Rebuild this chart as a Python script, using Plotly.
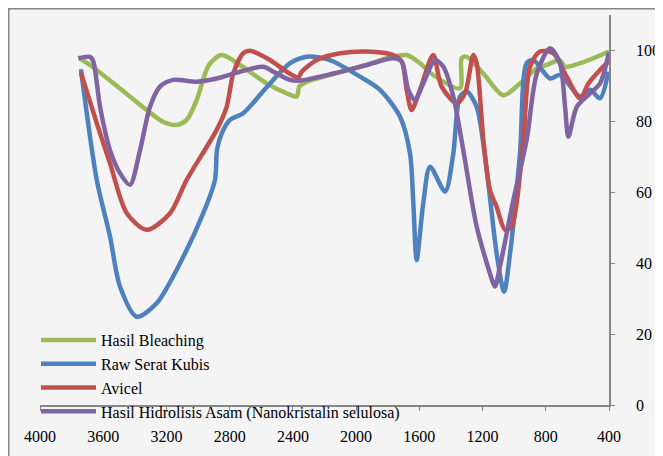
import plotly.graph_objects as go

# ---- data (wavenumber cm^-1, transmittance %) ----
green_x = [3750, 3684, 3500, 3325, 3222, 3135, 3072, 3009, 2930, 2850, 2735, 2566, 2439, 2376, 2360, 2320, 2146, 1933, 1807, 1680, 1596, 1513, 1343, 1332, 1300, 1195, 1069, 963, 857, 795, 710, 679, 583, 400]
green_y = [97.8, 95.9, 89.5, 83.2, 79.9, 79.0, 80.4, 86.0, 96.0, 98.7, 95.9, 90.7, 87.9, 87.0, 89.8, 91.0, 93.3, 95.9, 97.8, 98.7, 96.4, 93.1, 89.3, 97.8, 98.2, 93.5, 87.4, 90.7, 95.0, 95.9, 97.3, 95.4, 96.4, 99.7]

blue_x = [3741, 3641, 3557, 3494, 3388, 3262, 3114, 2967, 2893, 2880, 2850, 2798, 2714, 2545, 2418, 2313, 2230, 2144, 1975, 1849, 1722, 1659, 1638, 1617, 1575, 1532, 1437, 1385, 1343, 1300, 1237, 1174, 1111, 1064, 1026, 963, 921, 879, 773, 710, 583, 520, 457, 404]
blue_y = [94.7, 63.5, 47.5, 33.4, 24.9, 28.7, 40.0, 54.1, 63.5, 72.0, 76.6, 80.4, 82.3, 90.7, 96.4, 98.2, 98.0, 96.9, 92.6, 88.9, 81.3, 71.0, 56.9, 40.9, 56.9, 67.2, 60.2, 71.0, 87.0, 88.4, 84.1, 66.3, 42.8, 32.0, 42.8, 71.0, 96.4, 97.3, 92.1, 93.1, 87.0, 88.9, 86.5, 94.0]

red_x = [3741, 3641, 3557, 3451, 3325, 3177, 3072, 2882, 2819, 2777, 2714, 2671, 2545, 2439, 2366, 2344, 2249, 2102, 1933, 1765, 1712, 1680, 1649, 1596, 1512, 1459, 1364, 1311, 1258, 1237, 1195, 1153, 1111, 1058, 1016, 942, 900, 837, 752, 668, 583, 530, 457, 400]
red_y = [93.7, 79.5, 68.2, 54.1, 49.4, 54.1, 63.5, 77.6, 84.1, 93.5, 99.2, 99.9, 97.3, 94.0, 92.4, 94.0, 97.3, 99.2, 99.7, 98.7, 96.9, 88.9, 83.2, 88.9, 98.7, 89.8, 85.1, 87.9, 98.7, 96.4, 74.8, 60.6, 55.9, 49.4, 50.3, 74.8, 95.4, 99.7, 99.2, 92.6, 86.5, 90.7, 94.5, 97.0]

purple_x = [3758, 3684, 3663, 3620, 3557, 3494, 3431, 3367, 3304, 3241, 3157, 3009, 2882, 2735, 2587, 2524, 2418, 2355, 2144, 1933, 1765, 1712, 1670, 1628, 1575, 1501, 1448, 1385, 1322, 1237, 1132, 1121, 1090, 1005, 921, 857, 773, 710, 678, 657, 604, 520, 457, 400]
purple_y = [97.8, 98.2, 96.9, 84.1, 71.9, 65.4, 62.1, 71.9, 84.1, 89.8, 91.7, 91.2, 92.1, 94.0, 95.4, 94.0, 91.7, 91.5, 93.5, 95.9, 97.8, 96.9, 88.9, 86.0, 90.7, 97.3, 95.4, 87.0, 71.9, 50.3, 34.3, 33.4, 39.0, 57.8, 74.8, 93.5, 100.6, 96.4, 84.1, 75.7, 84.1, 87.9, 90.7, 99.5]

names = ["Hasil Bleaching", "Raw Serat Kubis", "Avicel", "Hasil Hidrolisis Asam (Nanokristalin selulosa)"]
colors = ["#9BBB59", "#4F81BD", "#C0504D", "#8064A2"]
series = [(green_x, green_y), (blue_x, blue_y), (red_x, red_y), (purple_x, purple_y)]

x_ticks = [4000, 3600, 3200, 2800, 2400, 2000, 1600, 1200, 800, 400]
y_ticks = [0, 20, 40, 60, 80, 100]

FONT = "Liberation Serif, Times New Roman, serif"

fig = go.Figure()
for i, ((xs, ys), nm, c) in enumerate(zip(series, names, colors)):
    fig.add_trace(go.Scatter(x=xs, y=ys, mode="lines", name=nm, legendgroup=f"g{i}",
                             line=dict(color=c, width=4.5, shape="spline", smoothing=0.8)))

# page body adds an 8px offset; margins are set so the plot lands where the reference has it
L, R, T, B = 32, 62, 7, 59
W, H = 663, 456
pw, ph = W - L - R, H - T - B

def px2paper_x(px):
    return (px - L) / pw

def py2paper_y(py):
    return (H - B - py) / ph

fig.add_shape(type="rect", xref="paper", yref="paper",
              x0=px2paper_x(0.5), x1=px2paper_x(720), y0=py2paper_y(520), y1=py2paper_y(0.5),
              line=dict(color="#878787", width=2), fillcolor="#F4F4F4", layer="below")

fig.update_layout(
    width=W, height=H,
    margin=dict(l=L, r=R, t=T, b=B),
    paper_bgcolor="white", plot_bgcolor="rgba(0,0,0,0)",
    font=dict(family=FONT, size=16, color="black"),
    showlegend=True,
    legend=dict(x=px2paper_x(28), y=py2paper_y(315), xanchor="left", yanchor="top",
                bgcolor="rgba(0,0,0,0)", traceorder="grouped", tracegroupgap=0,
                font=dict(family=FONT, size=16, color="black"), itemwidth=55),
    xaxis=dict(range=[4000, 400], tickvals=x_ticks, ticktext=[str(v) for v in x_ticks],
               showgrid=False, zeroline=False, showline=True, linecolor="#868686", linewidth=1.5,
               ticks="outside", ticklen=4, tickcolor="#868686", ticklabelstandoff=12,
               tickfont=dict(family=FONT, size=16, color="black")),
    yaxis=dict(range=[0, 110], tickvals=y_ticks, side="right", showgrid=False, zeroline=False,
               showline=True, linecolor="#868686", linewidth=1.5,
               ticks="outside", ticklen=4, tickcolor="#868686", ticklabelstandoff=18,
               tickfont=dict(family=FONT, size=16, color="black")),
)

fig.write_html("out.html")
